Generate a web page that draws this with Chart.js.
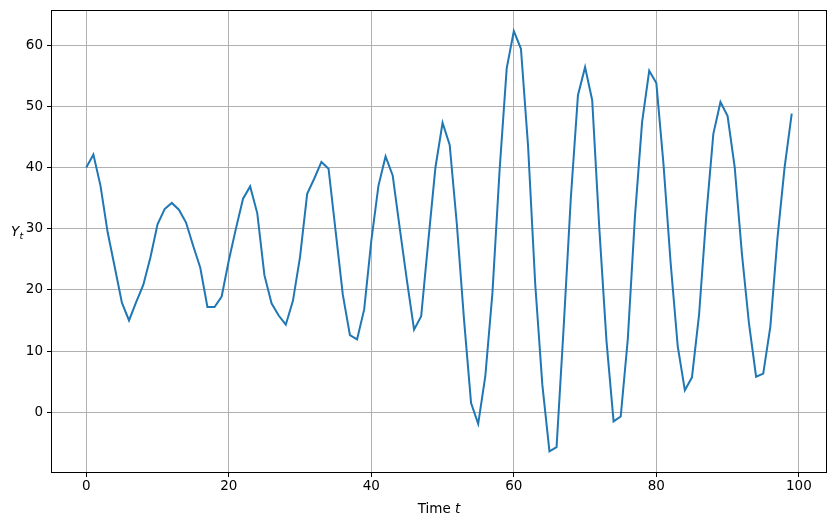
<!DOCTYPE html>
<html>
<head>
<meta charset="utf-8">
<script src="https://cdn.jsdelivr.net/npm/chart.js@4/dist/chart.umd.min.js"></script>
<style>
    body { margin: 0; background: #ffffff; }
    #wrap { width: 835px; height: 526px; }
</style>
</head>
<body>
<div id="wrap"><canvas id="grafico" width="835" height="526"></canvas></div>
<script>
// Y_t, one value per time step t = 0..99
const yValues = [
    40.0, 42.1, 37.0, 29.4, 23.7, 17.9, 15.0, 18.0, 20.8, 25.3,
    30.7, 33.2, 34.2, 33.1, 31.0, 27.2, 23.6, 17.2, 17.2, 18.9,
    24.8, 30.0, 34.9, 36.9, 32.5, 22.4, 17.8, 15.8, 14.3, 18.2,
    25.4, 35.7, 38.2, 40.9, 39.8, 29.5, 19.2, 12.6, 11.9, 16.8,
    28.0, 37.0, 41.8, 38.7, 30.0, 21.5, 13.5, 15.7, 28.0, 40.0,
    47.3, 43.7, 30.8, 15.3, 1.5, -1.9, 5.9, 19.5, 39.5, 56.2,
    62.3, 59.4, 43.5, 21.0, 4.5, -6.4, -5.7, 14.0, 35.0, 51.8,
    56.4, 51.0, 30.0, 11.7, -1.5, -0.7, 12.0, 32.0, 47.4, 55.8,
    53.8, 40.6, 24.5, 10.8, 3.6, 5.7, 16.0, 32.0, 45.5, 50.7,
    48.4, 40.0, 26.0, 14.5, 5.8, 6.3, 14.0, 28.5, 40.0, 48.8
];

const xTicks = [0, 20, 40, 60, 80, 100];
const yTicks = [0, 10, 20, 30, 40, 50, 60];

const points = yValues.map(function (v, i) {
    return { x: i, y: v };
});

Chart.defaults.font.family = "'DejaVu Sans', sans-serif";
Chart.defaults.font.size = 13.5;
Chart.defaults.color = "#000000";

// matplotlib-like frame and axis labels
const frame = {
    id: "frame",
    afterDraw: function (chart) {
        const ctx = chart.ctx;
        const a = chart.chartArea;
        ctx.save();
        ctx.strokeStyle = "#000000";
        ctx.lineWidth = 1;
        ctx.strokeRect(Math.round(a.left) + 0.5, Math.round(a.top) + 0.5,
            Math.round(a.right - a.left) - 1, Math.round(a.bottom - a.top) - 1);

        ctx.fillStyle = "#000000";
        ctx.textBaseline = "alphabetic";
        ctx.font = "13.5px 'DejaVu Sans'";
        const cx = (a.left + a.right) / 2;
        const w1 = ctx.measureText("Time ").width;
        ctx.font = "italic 13.5px 'DejaVu Sans'";
        const w2 = ctx.measureText("t").width;
        let x0 = cx - (w1 + w2) / 2;
        ctx.font = "13.5px 'DejaVu Sans'";
        ctx.fillText("Time ", x0, 513);
        ctx.font = "italic 13.5px 'DejaVu Sans'";
        ctx.fillText("t", x0 + w1, 513);

        ctx.font = "italic 13.5px 'DejaVu Sans'";
        ctx.fillText("Y", 11, 236);
        ctx.font = "italic 9.5px 'DejaVu Sans'";
        ctx.fillText("t", 19.5, 239);
        ctx.restore();
    }
};

new Chart(document.getElementById("grafico"), {

    type: "line",

    data: {
        datasets: [{
            label: "Y_t",
            data: points,
            borderColor: "#1f77b4",
            borderWidth: 2,
            pointRadius: 0,
            tension: 0,
            fill: false
        }]
    },

    options: {
        responsive: false,
        animation: false,
        layout: {
            padding: { top: 10, right: 8, left: 0, bottom: 0 }
        },
        plugins: {
            legend: { display: false },
            tooltip: { enabled: false }
        },
        scales: {
            x: {
                type: "linear",
                min: -4.95,
                max: 103.95,
                afterBuildTicks: function (scale) {
                    scale.ticks = xTicks.map(function (v) { return { value: v }; });
                },
                afterFit: function (scale) {
                    scale.height = 53;
                },
                ticks: {
                    padding: 1,
                    maxRotation: 0,
                    autoSkip: false
                },
                grid: {
                    color: "#b0b0b0",
                    lineWidth: 1,
                    tickColor: "#000000",
                    tickLength: 4,
                    drawTicks: true
                },
                border: { display: false }
            },
            y: {
                type: "linear",
                min: -9.94,
                max: 65.74,
                afterBuildTicks: function (scale) {
                    scale.ticks = yTicks.map(function (v) { return { value: v }; });
                },
                afterFit: function (scale) {
                    scale.width = 51;
                    scale.paddingTop = 0;
                    scale.paddingBottom = 0;
                },
                ticks: {
                    padding: 4,
                    autoSkip: false
                },
                grid: {
                    color: "#b0b0b0",
                    lineWidth: 1,
                    tickColor: "#000000",
                    tickLength: 4,
                    drawTicks: true
                },
                border: { display: false }
            }
        }
    },

    plugins: [frame]

});
</script>
</body>
</html>
